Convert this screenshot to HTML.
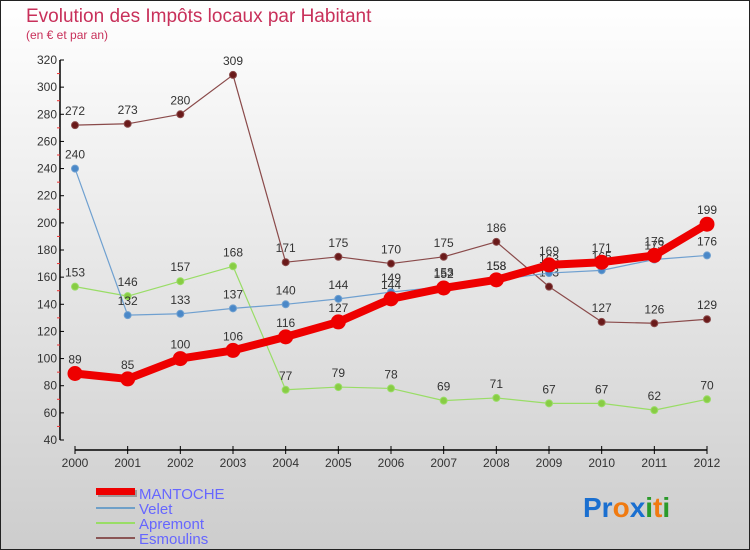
<!DOCTYPE html>
<html><head><meta charset="utf-8"><style>
body{margin:0}
#c{width:750px;height:550px;position:relative;overflow:hidden}
text{font-family:"Liberation Sans",sans-serif}
</style></head><body>
<div id="c">
<svg id="s" width="750" height="550" xmlns="http://www.w3.org/2000/svg">
<defs><linearGradient id="bg" x1="0" y1="0" x2="0" y2="1"><stop offset="0" stop-color="#ffffff"/><stop offset="1" stop-color="#cdcdcd"/></linearGradient></defs>
<rect x="0.5" y="0.5" width="749" height="549" fill="url(#bg)" stroke="#222"/>
<text x="26" y="22" font-size="19" fill="#c8305a">Evolution des Impôts locaux par Habitant</text>
<text x="26" y="39" font-size="12" fill="#c8305a">(en € et par an)</text>
<g id="axes"></g><g id="series"></g>
<g>
<rect x="98" y="490" width="39" height="7" fill="#777" opacity="0.6"/>
<rect x="96" y="488" width="39" height="7" fill="#ee0000"/>
<text x="139" y="499" font-size="15" fill="#6666ff">MANTOCHE</text>
<line x1="96" y1="508" x2="135" y2="508" stroke="#6fa0c8" stroke-width="2"/>
<text x="139" y="514" font-size="15" fill="#6666ff">Velet</text>
<line x1="96" y1="523" x2="135" y2="523" stroke="#99dd66" stroke-width="2"/>
<text x="139" y="529" font-size="15" fill="#6666ff">Apremont</text>
<line x1="96" y1="538" x2="135" y2="538" stroke="#8a5555" stroke-width="2"/>
<text x="139" y="544" font-size="15" fill="#6666ff">Esmoulins</text>
</g>
<g font-size="28" font-weight="bold">
<text x="583" y="517"><tspan fill="#1a6fd0">Pr</tspan><tspan fill="#f07a10">o</tspan><tspan fill="#1a6fd0">x</tspan><tspan fill="#2a9a2a">i</tspan><tspan fill="#f07a10">t</tspan><tspan fill="#2a9a2a">i</tspan></text>
</g>
</svg>
</div>
<script>
const years=[2000,2001,2002,2003,2004,2005,2006,2007,2008,2009,2010,2011,2012];
const yTicks=[40,60,80,100,120,140,160,180,200,220,240,260,280,300,320];
const mantoche=[89,85,100,106,116,127,144,152,158,169,171,176,199];
const velet=[240,132,133,137,140,144,149,153,158,163,165,173,176];
const apremont=[153,146,157,168,77,79,78,69,71,67,67,62,70];
const esmoulins=[272,273,280,309,171,175,170,175,186,153,127,126,129];
const NS="http://www.w3.org/2000/svg";
function X(i){return 75+i*(707-75)/(years.length-1);}
function Y(v){return 440-(v-40)*380/280;}
function mk(t,a,p){const e=document.createElementNS(NS,t);for(const k in a)e.setAttribute(k,a[k]);p.appendChild(e);return e;}
const ax=document.getElementById('axes');
const yl=mk('line',{x1:60,y1:Y(320),x2:60,y2:440,stroke:'#000','stroke-width':1.5},ax);


yTicks.forEach((v,i)=>{
 mk('line',{x1:60,y1:Y(v),x2:64,y2:Y(v),stroke:'#000'},ax);
 if(i<yTicks.length-1) mk('line',{x1:57,y1:Y(v+10),x2:60,y2:Y(v+10),stroke:'#e33'},ax);
 const t=mk('text',{x:57,y:Y(v)+4,'font-size':12,'text-anchor':'end',fill:'#333'},ax);t.textContent=v;
 
 
});
const xl=mk('line',{x1:X(0),y1:450,x2:X(12),y2:450,stroke:'#000','stroke-width':1.5},ax);


years.forEach((y,i)=>{
 mk('line',{x1:X(i),y1:446,x2:X(i),y2:454,stroke:'#000'},ax);
 const t=mk('text',{x:X(i),y:467,'font-size':12,'text-anchor':'middle',fill:'#333'},ax);t.textContent=y;
 
 
});
const sg=document.getElementById('series');
function draw(name,vals,color,dot,w,r){
 const g=mk('g',{},sg);
 
 
 mk('polyline',{points:vals.map((v,i)=>X(i)+','+Y(v)).join(' '),fill:'none',stroke:color,'stroke-width':w,'stroke-linejoin':'round'},g);
 vals.forEach((v,i)=>{
  const c=mk('circle',{cx:X(i),cy:Y(v),r:r,fill:dot,stroke:color,'stroke-width':1},g);
  
  
  const t=mk('text',{x:X(i),y:Y(v)-10,'font-size':12,'text-anchor':'middle',fill:'#333'},g);t.textContent=v;
  
  
 });
}
draw('esmoulins',esmoulins,'#8a4a4a','#6a1a1a',1.2,3.5);
draw('apremont',apremont,'#99dd66','#88cc44',1.2,3.5);
draw('velet',velet,'#6fa0d0','#4a88c8',1.2,3.5);
draw('mantoche',mantoche,'#ee0000','#ee0000',8,7);
</script>
</body></html>
